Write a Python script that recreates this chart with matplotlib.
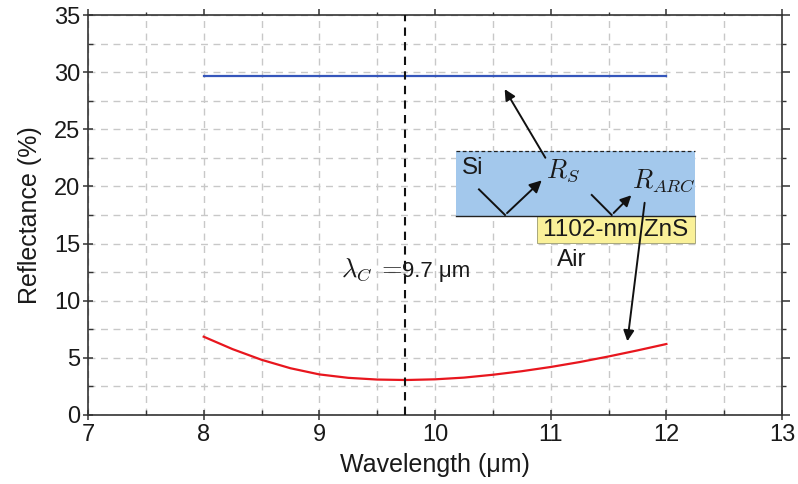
import matplotlib
matplotlib.use("Agg")
import matplotlib.pyplot as plt
from matplotlib.ticker import MultipleLocator
from matplotlib.patches import Rectangle

# ---- data ----
wl_si = [8, 12]
r_si = [29.7, 29.7]
wavelength = [8.0, 8.25, 8.5, 8.75, 9.0, 9.25, 9.5, 9.75, 10.0, 10.25, 10.5, 10.75, 11.0, 11.25, 11.5, 11.75, 12.0]
r_arc = [6.85, 5.76, 4.83, 4.09, 3.55, 3.25, 3.10, 3.06, 3.12, 3.27, 3.52, 3.83, 4.20, 4.63, 5.12, 5.65, 6.21]
lambda_c = 9.74
xticks = [7, 8, 9, 10, 11, 12, 13]
yticks = [0, 5, 10, 15, 20, 25, 30, 35]

plt.rcParams['font.family'] = ['Liberation Sans', 'DejaVu Sans']
plt.rcParams['mathtext.fontset'] = 'cm'

TXT = '#1a1a1a'
fig = plt.figure(figsize=(7.98, 4.84), dpi=100)
ax = fig.add_axes([0.1103, 0.1426, 0.98 - 0.1103, 0.969 - 0.1426])

ax.set_xlim(7, 13)
ax.set_ylim(0, 35)
ax.set_xticks(xticks)
ax.set_yticks(yticks)
ax.xaxis.set_minor_locator(MultipleLocator(0.5))
ax.yaxis.set_minor_locator(MultipleLocator(2.5))

ax.grid(True, which='both', color='#c8c8c8', linestyle=(0, (5, 4)), linewidth=1.0)
ax.set_axisbelow(True)

for s in ax.spines.values():
    s.set_linewidth(1.2)
    s.set_color('#333333')

ax.tick_params(which='major', direction='inout', length=7, width=1.1, color='#333333',
               labelsize=17, labelcolor=TXT, pad=2)
ax.tick_params(which='minor', direction='in', length=3.5, width=1.0, color='#333333')
ax.tick_params(axis='x', which='major', pad=3)

# outward ticks on top and right
secx = ax.secondary_xaxis('top')
secx.set_xticks(xticks)
secx.xaxis.set_minor_locator(MultipleLocator(0.5))
secx.tick_params(which='major', direction='out', length=4, width=1.1, color='#333333', labeltop=False)
secx.tick_params(which='minor', direction='out', length=2.5, width=1.0, color='#333333')
secx.spines['top'].set_visible(False)
secy = ax.secondary_yaxis('right')
secy.set_yticks(yticks)
secy.yaxis.set_minor_locator(MultipleLocator(2.5))
secy.tick_params(which='major', direction='out', length=6, width=1.1, color='#333333', labelright=False)
secy.tick_params(which='minor', direction='out', length=3, width=1.0, color='#333333')
secy.spines['right'].set_visible(False)

ax.plot(wl_si, r_si, color='#3556bb', lw=1.6, zorder=3)
ax.plot(wavelength, r_arc, color='#e8161e', lw=1.6, zorder=3, solid_joinstyle='round')
ax.axvline(lambda_c, color='#111111', lw=1.5, linestyle=(0, (4, 3)), zorder=3)

ax.set_xlabel('Wavelength (μm)', fontsize=18, color=TXT, labelpad=5)
ax.set_ylabel('Reflectance (%)', fontsize=18, color=TXT, labelpad=9)

# inset schematic
ax.add_patch(Rectangle((10.18, 17.41), 2.07, 5.69, facecolor='#a3c8ec', edgecolor='none', zorder=4))
ax.plot([10.18, 12.25], [23.1, 23.1], color='#222222', lw=0.9, linestyle=(0, (3, 2)), zorder=5)
ax.plot([10.18, 12.25], [17.41, 17.41], color='#222222', lw=1.0, zorder=5)
ax.add_patch(Rectangle((10.884, 15.02), 1.366, 2.39, facecolor='#faf199', edgecolor='#9a9a70', lw=0.6, zorder=4))

ax.text(10.23, 21.6, 'Si', fontsize=17.5, va='center', ha='left', zorder=6, color=TXT)
ax.text(10.96, 21.4, r'$R_S$', fontsize=19, va='center', ha='left', zorder=6, color=TXT)
ax.text(11.70, 20.5, r'$R_{ARC}$', fontsize=19, va='center', ha='left', zorder=6, color=TXT)
ax.text(11.565, 16.15, '1102-nm ZnS', fontsize=17.5, va='center', ha='center', zorder=6, color=TXT)
ax.text(11.18, 13.6, 'Air', fontsize=17.5, va='center', ha='center', zorder=6, color=TXT)
ax.text(9.19, 12.1, r'$\lambda_C\:=$', fontsize=19, va='baseline', ha='left', zorder=6, color=TXT)
ax.text(9.715, 12.1, '9.7 μm', fontsize=16, va='baseline', ha='left', zorder=6, color=TXT)

# reflection rays
ax.plot([10.38, 10.605], [19.74, 17.5], color='#111111', lw=1.4, zorder=6)
ax.annotate('', xy=(10.94, 20.7), xytext=(10.605, 17.5),
            arrowprops=dict(arrowstyle='-|>', color='#111111', lw=1.4, mutation_scale=18), zorder=6)
ax.plot([11.355, 11.527], [19.25, 17.5], color='#111111', lw=1.4, zorder=6)
ax.annotate('', xy=(11.714, 19.4), xytext=(11.527, 17.5),
            arrowprops=dict(arrowstyle='-|>', color='#111111', lw=1.4, mutation_scale=16), zorder=6)

# pointer arrows
ax.annotate('', xy=(10.59, 28.72), xytext=(10.966, 22.3),
            arrowprops=dict(arrowstyle='-|>', color='#111111', lw=1.4, mutation_scale=16), zorder=7)
ax.annotate('', xy=(11.66, 6.21), xytext=(11.815, 18.81),
            arrowprops=dict(arrowstyle='-|>', color='#111111', lw=1.4, mutation_scale=16), zorder=7)

fig.savefig('out.png', dpi=100)
